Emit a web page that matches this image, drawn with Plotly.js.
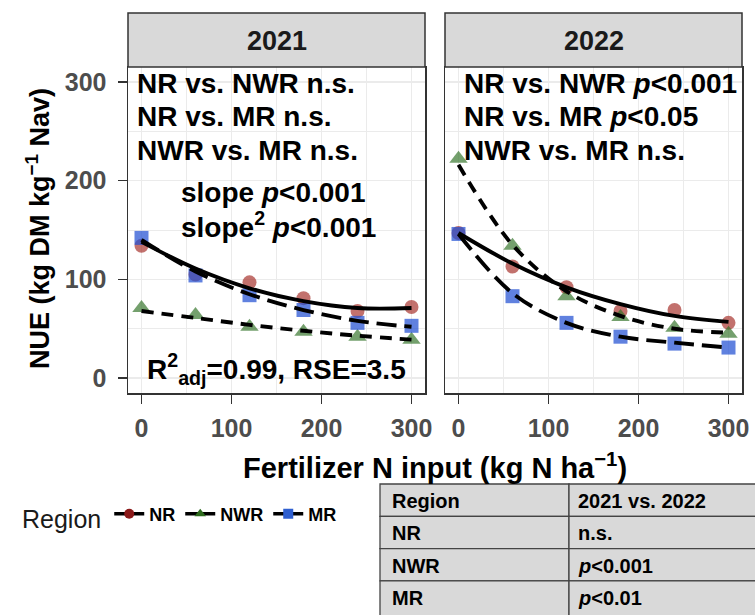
<!DOCTYPE html>
<html>
<head>
<meta charset="utf-8">
<script src="https://cdn.plot.ly/plotly-3.0.1.min.js"></script>
<style>
html,body{margin:0;padding:0;background:#fff;}
#chart{width:755px;height:615px;}
</style>
</head>
<body>
<div id="chart"></div>
<script>
// ---------------- data ----------------
const years = ['2021', '2022'];
const regions = ['NR', 'NWR', 'MR'];
const nInput = [0, 60, 120, 180, 240, 300];

// observed NUE (points)
const nr2021 = [134, 105, 97, 81, 68, 72];
const nwr2021 = [71, 64, 52, 47, 42, 39];
const mr2021 = [142, 104, 84, 69, 56, 53];
const nr2022 = [147, 113, 92, 68, 69, 56];
const nwr2022 = [222, 134, 83, 62, 51, 45];
const mr2022 = [146, 83, 56, 42, 35, 31];

// fitted curves
const nrFit2021 = [138, 111, 91, 78, 71, 71];
const nwrFit2021 = [68, 61, 54, 48, 43, 39];
const mrFit2021 = [140, 108, 85, 69, 58, 52];
const nrFit2022 = [147, 116, 92, 75, 63, 57];
const nwrFit2022 = [216, 135, 88, 63, 50, 46];
const mrFit2022 = [146, 86, 56, 42, 36, 31];

const xTicks = [0, 100, 200, 300];
const yTicks = [0, 100, 200, 300];

// panel texts
const contrasts2021 = ['NR vs. NWR n.s.', 'NR vs. MR n.s.', 'NWR vs. MR n.s.'];
const contrasts2022 = ['NR vs. NWR <i>p</i><0.001', 'NR vs. MR <i>p</i><0.05', 'NWR vs. MR n.s.'];
const slopeTexts = ['slope <i>p</i><0.001', 'slope<sup>2</sup> <i>p</i><0.001'];
const fitStat = 'R<sup>2</sup><sub>adj</sub>=0.99, RSE=3.5';

// comparison table
const tableHeader = ['Region', '2021 vs. 2022'];
const tableRegion = ['NR', 'NWR', 'MR'];
const tableP = ['n.s.', '<i>p</i><0.001', '<i>p</i><0.01'];

// ---------------- styling ----------------
const W = 755, H = 615;
const px = v => v / W;
const py = v => 1 - v / H;
const FONT = 'Liberation Sans, Arial, Helvetica, sans-serif';

const pointColor = {NR: 'rgba(165,45,40,0.68)', NWR: 'rgba(50,115,40,0.68)', MR: 'rgba(35,80,210,0.72)'};
const legendColor = {NR: '#8B1A1A', NWR: '#2E6B1E', MR: '#2F5FD0'};
const symbol = {NR: 'circle', NWR: 'triangle-up', MR: 'square'};
const msize = {NR: 14, NWR: 16, MR: 14};
const dash = {NR: 'solid', NWR: '12px,8px', MR: '20px,8px'};

const obs = {
  '2021': {NR: nr2021, NWR: nwr2021, MR: mr2021},
  '2022': {NR: nr2022, NWR: nwr2022, MR: mr2022}
};
const fit = {
  '2021': {NR: nrFit2021, NWR: nwrFit2021, MR: mrFit2021},
  '2022': {NR: nrFit2022, NWR: nwrFit2022, MR: mrFit2022}
};

const traces = [];
years.forEach((yr, i) => {
  const xa = i === 0 ? 'x' : 'x2', ya = i === 0 ? 'y' : 'y2';
  regions.forEach(r => {
    traces.push({
      type: 'scatter', mode: 'markers', x: nInput, y: obs[yr][r], xaxis: xa, yaxis: ya,
      marker: {symbol: symbol[r], size: msize[r], color: pointColor[r], line: {width: 0}},
      showlegend: false, hoverinfo: 'skip'
    });
  });
  ['NWR', 'MR', 'NR'].forEach(r => {
    traces.push({
      type: 'scatter', mode: 'lines', x: nInput, y: fit[yr][r], xaxis: xa, yaxis: ya,
      line: {color: '#000', width: 3.9, dash: dash[r], shape: 'spline', smoothing: 1},
      showlegend: false, hoverinfo: 'skip'
    });
  });
});
// legend entries
regions.forEach(r => {
  traces.push({
    type: 'scatter', mode: 'lines+markers', x: [null], y: [null], name: r,
    line: {color: '#000', width: 3.5},
    marker: {symbol: symbol[r], size: 10, color: legendColor[r]},
    showlegend: true
  });
});

const gridCol = '#EBEBEB';
const tickFont = {family: FONT, size: 25, color: '#4D4D4D', weight: 'bold'};
function xAxis(dom, anchor) {
  return {
    domain: dom, anchor: anchor, range: [-15, 315], tickmode: 'array', tickvals: xTicks,
    ticks: 'outside', ticklen: 9, tickwidth: 1.6, tickcolor: '#333', ticklabelstandoff: 3,
    tickfont: tickFont,
    showgrid: true, gridcolor: gridCol, gridwidth: 1.5,
    minor: {dtick: 50, tick0: 0, showgrid: true, gridcolor: gridCol, gridwidth: 1, ticks: ''},
    showline: true, mirror: true, linecolor: '#333', linewidth: 1.5, zeroline: false, fixedrange: true
  };
}
function yAxis(anchor, labels) {
  return {
    domain: [py(393), py(67)], anchor: anchor, range: [-15, 315], tickmode: 'array', tickvals: yTicks,
    ticks: labels ? 'outside' : '', ticklen: 9, tickwidth: 1.6, tickcolor: '#333', ticklabelstandoff: 6,
    showticklabels: labels,
    tickfont: tickFont,
    showgrid: true, gridcolor: gridCol, gridwidth: 1.5,
    minor: {dtick: 50, tick0: 0, showgrid: true, gridcolor: gridCol, gridwidth: 1, ticks: ''},
    showline: true, mirror: true, linecolor: '#333', linewidth: 1.5, zeroline: false, fixedrange: true
  };
}

const shapes = [];
const annotations = [];
const panelsPx = [[128, 425], [445, 742]];
years.forEach((yr, i) => {
  const [a, b] = panelsPx[i];
  shapes.push({type: 'rect', xref: 'paper', yref: 'paper', x0: px(a), x1: px(b), y0: py(67), y1: py(13),
    fillcolor: '#D9D9D9', line: {color: '#333', width: 1.5}, layer: 'above'});
  annotations.push({xref: 'paper', yref: 'paper', x: px((a + b) / 2), y: py(41), text: yr, showarrow: false,
    xanchor: 'center', yanchor: 'middle', font: {family: FONT, size: 27, color: '#1A1A1A', weight: 'bold'}});
});
const annFont = {family: FONT, size: 28, color: '#000', weight: 'bold'};
const lineYs = [83, 117, 150];
contrasts2021.forEach((t, k) => annotations.push({xref: 'paper', yref: 'paper', x: px(135), y: py(lineYs[k]),
  text: t, showarrow: false, xanchor: 'left', yanchor: 'middle', font: annFont}));
contrasts2022.forEach((t, k) => annotations.push({xref: 'paper', yref: 'paper', x: px(462), y: py(lineYs[k]),
  text: t, showarrow: false, xanchor: 'left', yanchor: 'middle', font: annFont}));
slopeTexts.forEach((t, k) => annotations.push({xref: 'paper', yref: 'paper', x: px(179), y: py([192, 225][k]),
  text: t, showarrow: false, xanchor: 'left', yanchor: 'middle', font: annFont}));
annotations.push({xref: 'paper', yref: 'paper', x: px(145), y: py(369), text: fitStat, showarrow: false,
  xanchor: 'left', yanchor: 'middle', font: annFont});

// axis titles
annotations.push({xref: 'paper', yref: 'paper', x: px(435), y: py(466),
  text: 'Fertilizer N input (kg N ha<sup>\u22121</sup>)', showarrow: false, xanchor: 'center', yanchor: 'middle',
  font: {family: FONT, size: 29, color: '#000', weight: 'bold'}});
annotations.push({xref: 'paper', yref: 'paper', x: px(38), y: py(229), textangle: -90,
  text: 'NUE (kg DM kg<sup>\u22121</sup> Nav)', showarrow: false, xanchor: 'center', yanchor: 'middle',
  font: {family: FONT, size: 27, color: '#000', weight: 'bold'}});

// table
const tblLeft = 380, tblMid = 569, tblRight = 780, rowTop = 484, rowH = 32.3;
const tblFont = {family: FONT, size: 20, color: '#000', weight: 'bold'};
const rows = [tableHeader].concat(tableRegion.map((r, k) => [r, tableP[k]]));
rows.forEach((row, k) => {
  const t = rowTop + k * rowH;
  const bot = k === rows.length - 1 ? 640 : t + rowH;
  shapes.push({type: 'rect', xref: 'paper', yref: 'paper', x0: px(tblLeft), x1: px(tblMid), y0: py(bot), y1: py(t),
    fillcolor: '#D9D9D9', line: {color: '#444', width: 1.3}});
  shapes.push({type: 'rect', xref: 'paper', yref: 'paper', x0: px(tblMid), x1: px(tblRight), y0: py(bot), y1: py(t),
    fillcolor: '#D9D9D9', line: {color: '#444', width: 1.3}});
  annotations.push({xref: 'paper', yref: 'paper', x: px(tblLeft + 10), y: py(t + rowH / 2 + 1), text: row[0],
    showarrow: false, xanchor: 'left', yanchor: 'middle', font: tblFont});
  annotations.push({xref: 'paper', yref: 'paper', x: px(tblMid + 7), y: py(t + rowH / 2 + 1), text: row[1],
    showarrow: false, xanchor: 'left', yanchor: 'middle', font: tblFont});
});

const layout = {
  width: W, height: H, margin: {l: 0, r: 0, t: 0, b: 0},
  paper_bgcolor: '#fff', plot_bgcolor: '#fff',
  xaxis: xAxis([px(128), px(425)], 'y'),
  yaxis: yAxis('x', true),
  xaxis2: xAxis([px(445), px(742)], 'y2'),
  yaxis2: yAxis('x2', false),
  showlegend: true,
  legend: {
    orientation: 'h', x: px(20), xanchor: 'left', y: py(517), yanchor: 'middle',
    title: {text: 'Region', side: 'left', font: {family: FONT, size: 25, color: '#1A1A1A', weight: 'normal'}},
    font: {family: FONT, size: 18, color: '#000', weight: 'bold'},
    bgcolor: 'rgba(0,0,0,0)', itemwidth: 30, tracegroupgap: 0
  },
  shapes: shapes,
  annotations: annotations
};

Plotly.newPlot('chart', traces, layout, {staticPlot: true, displayModeBar: false});
</script>
</body>
</html>
